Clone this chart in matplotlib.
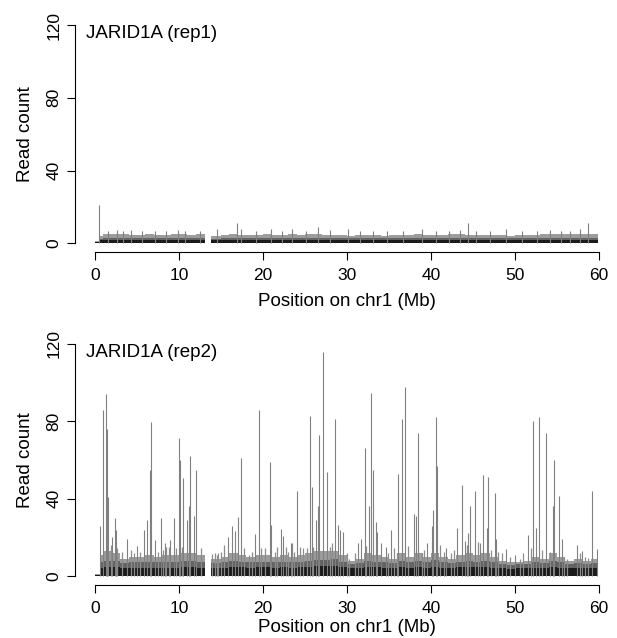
import numpy as np
import matplotlib
matplotlib.use("Agg")
import matplotlib.pyplot as plt

plt.rcParams['font.family'] = ['Liberation Sans', 'DejaVu Sans']
plt.rcParams['font.size'] = 12

# genomic bins (Mb) shared by both replicates; 13.1-13.8 is the gap with no reads
bin_edges = [0.0, 0.6, 1, 2, 3, 4, 5, 6, 7, 8, 9, 10, 11, 12, 13.1, 13.8,
             15, 16, 17, 18, 19, 20, 21, 22, 23, 24, 25, 26, 27, 28, 29, 30,
             31, 32, 33, 34, 35, 36, 37, 38, 39, 40, 41, 42, 43, 44, 45, 46,
             47, 48, 49, 50, 51, 52, 53, 54, 55, 56, 57, 58, 59, 59.9]

# rep1: upper edge of the dense background, mid layer and dark base (read count)
rep1_top = [1, 4, 5, 5, 5, 4.5, 4.5, 5, 4.5, 4.5, 5, 5, 4.5, 5, 0, 4,
            4.5, 5, 4.5, 4.5, 4.5, 5, 4.5, 4.5, 5, 4.5, 5, 5, 4.5, 4.5, 4.5,
            4, 4.5, 4.5, 4.5, 4, 4.5, 4.5, 4.5, 5, 4.5, 4.5, 4.5, 5, 5, 4.5,
            4.5, 4.5, 4.5, 4.5, 4, 4.5, 4.5, 4.5, 5, 5, 5, 5, 5, 5, 5]
rep1_mid = [0.5, 2.5, 3, 3, 3, 3, 3, 3, 3, 3, 3, 3, 3, 3, 0, 2.5,
            3, 3, 3, 3, 3, 3, 3, 3, 3, 3, 3, 3, 3, 3, 3,
            3, 3, 3, 3, 3, 3, 3, 3, 3, 3, 3, 3, 3, 3, 3,
            3, 3, 3, 3, 3, 3, 3, 3, 3, 3, 3, 3, 3, 3, 3]
rep1_base = [0.6, 1.8, 2, 2, 2, 2, 2, 2, 2, 2, 2, 2, 2, 2, 0, 1.8,
             2, 2, 2, 2, 2, 2, 2, 2, 2, 2, 2, 2, 2, 2, 2,
             2, 2, 2, 2, 2, 2, 2, 2, 2, 2, 2, 2, 2, 2, 2,
             2, 2, 2, 2, 2, 2, 2, 2, 2, 2, 2, 2, 2, 2, 2]

# rep1 isolated peaks
rep1_peak_pos = [0.51, 1.6, 2.58, 3.3, 4.3, 5.6, 7.1, 8.4, 9.9, 10.7, 12.5, 14.5,
                 16.9, 17.4, 19.2, 21.0, 22.3, 23.4, 25.1, 26.6, 28.0, 30.1, 31.6,
                 33.1, 34.8, 36.7, 38.9, 40.6, 42.1, 43.5, 44.4, 45.4, 47.0,
                 48.9, 50.8, 52.6, 54.2, 55.5, 56.6, 57.7, 58.65]
rep1_peak_cnt = [21, 7, 7.3, 7, 7.3, 6.5, 6.7, 6.5, 7.3, 6.7, 7, 8,
                 11, 8, 6.5, 8, 6.5, 8, 6.5, 8.8, 7.3, 7.9, 6.5,
                 7, 7, 6.5, 7.9, 6.5, 6.5, 7.3, 11, 7, 6.5,
                 7.9, 6.5, 6.5, 7.3, 7, 6.5, 7.9, 11]

# rep2 background layers
rep2_top = [1, 11, 13, 12, 9, 10, 10, 11, 10, 11, 11, 12, 12, 11, 0, 9,
            10, 12, 11, 10, 11, 11, 10, 11, 10, 11, 12, 13, 13, 13, 11,
            8, 9, 12, 11, 10, 9, 12, 10, 12, 10, 12, 10, 9, 11, 12,
            11, 12, 10, 8, 7, 7, 8, 10, 9, 12, 10, 8, 9, 8, 9]
rep2_mid = [0.5, 7, 8, 8, 6.5, 7, 7, 7.5, 7, 7.5, 7.5, 8, 8, 7.5, 0, 6.5,
            7, 8, 7.5, 7, 7.5, 7.5, 7, 7.5, 7, 7.5, 8, 8.5, 8.5, 9, 7.5,
            6, 6.5, 8, 7.5, 7, 6.5, 8, 7, 8, 7, 8.5, 7, 6.5, 7.5, 8,
            7.5, 8, 7, 6, 5.5, 6, 6, 7, 6.5, 8, 7, 6, 6.5, 6, 6.5]
rep2_base = [0.6, 4, 4.5, 4.5, 4, 4, 4, 4, 4, 4, 4, 4.5, 4.5, 4, 0, 4,
             4, 4.5, 4.5, 4, 4.5, 4.5, 4, 4.5, 4, 4.5, 4.5, 5, 5, 5, 4.5,
             4, 4, 4.5, 4.5, 4, 4, 4.5, 4, 4.5, 4, 4.5, 4, 4, 4.5, 4.5,
             4.5, 4.5, 4, 4, 3.5, 4, 4, 4, 4, 4.5, 4, 4, 4, 4, 4]

# rep2 tall peaks
rep2_peak_pos = [0.6, 0.91, 1.31, 1.43, 1.5, 2.06, 2.38, 2.5, 3.77, 4.96, 5.87,
                 6.2, 6.6, 6.7, 7.1, 7.82, 8.3, 8.9, 9.4, 10.0, 10.1, 10.5,
                 10.9, 11.2, 11.3, 11.8, 12.02, 15.8, 16.3, 16.7, 16.98, 17.34,
                 19.1, 19.56, 20.83, 20.95, 22.1, 22.4, 23.3, 24.08, 25.56,
                 25.8, 26.3, 26.6, 26.7, 27.2, 27.65, 28.57, 28.9, 29.2, 29.55,
                 31.3, 31.7, 32.1, 32.67, 32.9, 33.13, 33.4, 33.6, 34.1, 34.6,
                 35.3, 36.1, 36.5, 36.94, 38.0, 38.2, 38.45, 39.5, 40.08, 40.3,
                 40.6, 40.7, 41.8, 43.1, 43.65, 44.0, 44.4, 44.7, 45.24, 45.8,
                 46.15, 46.7, 46.8, 47.66, 47.8, 48.99, 50.0, 51.5, 52.1, 52.5,
                 52.86, 53.7, 54.56, 54.68, 55.2, 55.6, 57.4, 58.0, 59.2, 59.8]
rep2_peak_cnt = [26, 86, 94, 76, 41, 20, 30, 24, 19, 15.5, 24,
                 29, 55, 79.5, 18.5, 30, 17, 18.6, 30, 71.5, 60, 50.5,
                 29, 36, 62, 31, 55, 20, 26, 23.5, 30.5, 61,
                 21.5, 86, 59, 26.5, 24.5, 20.5, 17, 44, 83,
                 46, 29, 36, 73, 116, 54, 81, 26.5, 24, 23,
                 17, 19, 66, 36, 94.5, 55, 28, 23, 17, 15,
                 24, 53, 81, 98, 32, 31, 74, 17, 26, 34,
                 82, 57, 14.5, 25, 47, 18, 22.5, 36, 44, 17,
                 52, 25, 51, 43, 19, 14, 11, 21, 80, 25,
                 82, 74, 36, 60, 41.5, 19, 16, 13, 44, 14]

# rep2 minor peaks poking out of the background
rep2_minor_pos = [1.87, 2.58, 3.17, 4.3, 4.6, 5.4, 7.5, 8.1, 8.45, 8.85, 9.7,
                  10.4, 12.6, 13.9, 14.3, 14.5, 14.7, 15.0, 15.4, 17.8, 18.3,
                  18.7, 19.8, 20.2, 21.4, 21.7, 22.7, 23.0, 23.4, 23.7, 24.4,
                  24.8, 25.2, 25.9, 27.96, 28.25, 29.96, 30.3, 30.95, 32.3,
                  34.9, 35.6, 35.9, 37.3, 38.9, 39.2, 41.07, 41.5, 42.4, 42.7,
                  44.25, 45.6, 47.2, 48.0, 48.4, 49.4, 50.6, 51.0, 51.9, 53.2,
                  54.2, 55.8, 56.2, 57.7, 58.3, 58.7]
rep2_minor_cnt = [16, 14.3, 12.6, 13.5, 12, 12.2, 12.6, 13.5, 15.2, 15.2, 14.3,
                  15, 14.3, 11.2, 12, 11, 12, 12.6, 16, 14.3, 11,
                  12.6, 14.3, 14.6, 12.6, 15.2, 15.2, 12.6, 17, 12.6, 15.2,
                  14.3, 14.3, 15.2, 15.2, 17, 11.7, 9, 11.7, 15.3,
                  11.7, 14.4, 11.7, 15.3, 11.7, 13.5, 16, 12.6, 11.7, 13.5,
                  16, 17.8, 13.5, 12.6, 11.7, 10, 9, 11.7, 14.7, 13.5,
                  12.6, 10, 9, 11.7, 10, 9.5]

fig = plt.figure(figsize=(6.17, 6.38), dpi=100)
W, H = 617.0, 638.0

# axes boxes in pixels: left, bottom edge, top edge (from the top), x label centre
panels = [
    (74.8, 252.0, 16.3, 302, "JARID1A (rep1)", rep1_top, rep1_mid, rep1_base,
     rep1_peak_pos, rep1_peak_cnt, [], []),
    (74.8, 585.3, 334.7, 627, "JARID1A (rep2)", rep2_top, rep2_mid, rep2_base,
     rep2_peak_pos, rep2_peak_cnt, rep2_minor_pos, rep2_minor_cnt),
]

for left, bottom, top, xlab_y, title, top_v, mid_v, base_v, pk_x, pk_y, mn_x, mn_y in panels:
    ax = fig.add_axes([left / W, (H - bottom) / H, 544.3 / W, (bottom - top) / H])
    ax.stairs(top_v, bin_edges, fill=True, color='#9c9c9c', lw=0)
    ax.vlines(mn_x, 0, mn_y, colors='#8c8c8c', lw=0.9)
    ax.vlines(pk_x, 0, pk_y, colors='#808080', lw=0.8)
    ax.stairs(mid_v, bin_edges, fill=True, color='#636363', lw=0)
    ax.stairs(base_v, bin_edges, fill=True, color='#1a1a1a', lw=0)

    ax.set_xlim(-2.4, 62.4)
    ax.set_ylim(-4.8, 124.8)
    ax.set_xticks([0, 10, 20, 30, 40, 50, 60])
    ax.set_yticks([0, 40, 80, 120])
    ax.set_yticklabels(['0', '40', '80', '120'], rotation=90, va='center')
    for s in ['top', 'right']:
        ax.spines[s].set_visible(False)
    ax.spines['left'].set_bounds(0, 120)
    ax.spines['bottom'].set_bounds(0, 60)
    ax.spines['left'].set_linewidth(0.8)
    ax.spines['bottom'].set_linewidth(0.8)
    ax.tick_params(axis='x', length=5.5, width=0.8, pad=6, labelsize=12.5)
    ax.tick_params(axis='y', length=5.5, width=0.8, pad=4, labelsize=12.5)
    ax.text(-1.1, 115.6, title, fontsize=13.5, va='center', ha='left')
    fig.text(347 / W, (H - xlab_y) / H, 'Position on chr1 (Mb)', fontsize=13.5,
             ha='center', va='center')
    ax.set_ylabel('Read count', fontsize=13.5, labelpad=9)

fig.savefig('out.png', dpi=100)
